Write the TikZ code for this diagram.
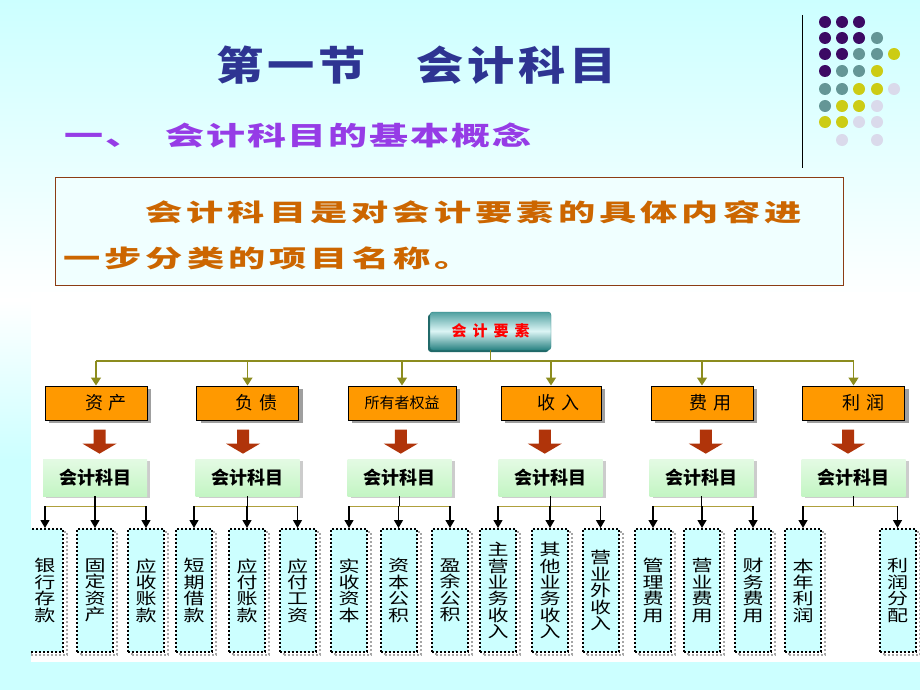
\documentclass[tikz,border=0pt]{standalone}
\usepackage{fontspec}
\usepackage{graphicx}
\setmainfont{Noto Sans CJK SC}
\usetikzlibrary{shadows,arrows.meta,calc}
\definecolor{bgcyan}{RGB}{204,255,255}
\definecolor{titleblue}{RGB}{46,52,146}
\definecolor{subpurple}{RGB}{150,60,230}
\definecolor{bodyorange}{RGB}{204,102,0}
\definecolor{boxbrown}{RGB}{140,60,20}
\definecolor{boxfill}{RGB}{240,255,255}
\definecolor{catorange}{RGB}{255,153,0}
\definecolor{olivel}{RGB}{140,140,30}
\definecolor{goldl}{RGB}{175,160,60}
\definecolor{greenbox}{RGB}{195,245,195}
\definecolor{arrowred}{RGB}{176,52,10}
\definecolor{dotP}{RGB}{60,10,100}
\definecolor{dotT}{RGB}{100,150,150}
\definecolor{dotY}{RGB}{204,204,20}
\definecolor{dotL}{RGB}{218,218,235}
\definecolor{tealA}{RGB}{80,160,160}
\definecolor{tealB}{RGB}{220,245,245}
\definecolor{tealC}{RGB}{40,130,130}
\newcommand\vstk[1]{\scalebox{1.05}[0.8]{\parbox{22pt}{\centering\fontsize{20}{20.5}\selectfont #1}}}
\begin{document}
\begin{tikzpicture}[x=1pt,y=-1pt,
  catbox/.style={draw=black, line width=1pt, fill=catorange, minimum height=34pt,
    minimum width=102pt, inner sep=0pt, font=\fontsize{18}{18}\selectfont\addfontfeature{LetterSpace=28},
    drop shadow={shadow xshift=4pt, shadow yshift=-3pt, fill=gray!75, opacity=1}},
  subjbox/.style={top color=greenbox!45!white, bottom color=greenbox, minimum width=104pt,
    minimum height=37pt, inner sep=0pt, font=\bfseries\fontsize{18}{18}\selectfont,
    drop shadow={shadow xshift=3pt, shadow yshift=-2pt, fill=gray!40, opacity=1}},
  itembox/.style={draw=black, line width=2pt, dash pattern=on 2pt off 2pt, fill=bgcyan,
    minimum width=36pt, minimum height=123pt, inner sep=0pt,
    drop shadow={shadow xshift=4pt, shadow yshift=-3pt, fill=white, draw=gray!70,
      line width=2pt, dash pattern=on 2pt off 2pt, opacity=1}},
  elemnode/.style={rounded corners=3pt, minimum width=121pt, minimum height=38pt,
    draw=tealC, top color=tealA, bottom color=tealC, middle color=tealB, text=red,
    font=\bfseries\fontsize{15}{15}\selectfont\addfontfeature{LetterSpace=40},
    drop shadow={shadow xshift=-2pt, shadow yshift=-2pt, fill=tealC!80!black, opacity=1}},
  oline/.style={draw=olivel, line width=1.5pt},
  oarrow/.style={draw=olivel, line width=1.5pt, -{Triangle[width=10pt,length=8pt]}},
  goldline/.style={draw=goldl, line width=1pt},
  stem/.style={draw=black, line width=1.3pt},
  karrow/.style={draw=black, line width=1.3pt, -{Triangle[width=9pt,length=8pt]}},
  bigtxt/.style={inner sep=0pt, anchor=west},
  blockarrow/.pic={\fill[arrowred] (-6,-10) -- (6,-10) -- (6,4) -- (17,4) -- (0,14) -- (-17,4) -- (-6,4) -- cycle;}
]
\useasboundingbox (0,0) rectangle (920,690);
% background
\fill[bgcyan] (0,0) rectangle (920,690);
\shade[top color=bgcyan, bottom color=white] (0,0) rectangle (920,300);
\shade[top color=white, bottom color=bgcyan] (0,300) rectangle (920,460);
\fill[white] (31,292) rectangle (920,662);
% decoration
\draw[line width=1pt] (802,15) -- (802,168);
\foreach \x/\y/\c in {
 825/22/dotP, 842/22/dotP, 859/22/dotP,
 825/38/dotP, 842/38/dotP, 859/38/dotP, 877/38/dotT,
 825/54/dotP, 842/54/dotP, 859/54/dotT, 877/54/dotT, 894/54/dotY,
 825/71/dotP, 842/71/dotT, 859/71/dotT, 877/71/dotY,
 825/89/dotT, 842/89/dotT, 859/89/dotY, 877/89/dotY, 894/89/dotL,
 825/106/dotT, 842/106/dotY, 859/106/dotY, 877/106/dotL,
 825/122/dotY, 842/122/dotY, 859/122/dotL, 877/122/dotL,
 842/140/dotL, 877/140/dotL}
  \fill[\c] (\x,\y) circle (6pt);
% titles
\node[bigtxt, text=titleblue, font=\bfseries\fontsize{40}{40}\selectfont\addfontfeature{LetterSpace=8}]
  (title) at (216,65) {\scalebox{1.18}[1]{第一节\hspace*{43pt}会计科目}};
\node[bigtxt, text=subpurple, font=\bfseries\fontsize{26}{26}\selectfont\addfontfeature{LetterSpace=5}]
  (sub) at (64,135) {\scalebox{1.5}[1]{一、\hspace*{14pt}会计科目的基本概念}};
% definition box
\node[draw=boxbrown, line width=1pt, fill=boxfill, minimum width=788pt, minimum height=108pt,
  anchor=north west, inner sep=0pt] (defbox) at (55,177) {};
\node[bigtxt, text=bodyorange, font=\bfseries\fontsize{24}{24}\selectfont\addfontfeature{LetterSpace=11}]
  (def1) at (145,212.5) {\scalebox{1.55}[1]{会计科目是对会计要素的具体内容进}};
\node[bigtxt, text=bodyorange, font=\bfseries\fontsize{24}{24}\selectfont\addfontfeature{LetterSpace=11}]
  (def2) at (63,258) {\scalebox{1.55}[1]{一步分类的项目名称。}};
% top element
\node[elemnode] (elem) at (490.5,331) {会计要素};
\coordinate (bus) at (0,361);
% categories
\node[catbox] (o1) at (96,403) {\hspace*{20pt}资产};
\node[catbox] (o2) at (247.5,403) {\hspace*{18pt}负债};
\node[catbox, minimum width=108pt, font=\fontsize{15}{15}\selectfont] (o3) at (402,403) {所有者权益};
\node[catbox, minimum width=100pt] (o4) at (551,403) {\hspace*{15pt}收入};
\node[catbox] (o5) at (702,403) {\hspace*{17pt}费用};
\node[catbox] (o6) at (853.5,403) {\hspace*{20pt}利润};
\draw[oline] (elem.south) -- (elem.south |- bus);
\draw[oline] (o1.north |- bus) -- (o6.north |- bus);
\foreach \i in {1,...,6} \draw[oarrow] (o\i.north |- bus) -- (o\i.north);
% subject boxes
\node[subjbox] (g1) at (95,477.5) {会计科目};
\node[subjbox] (g2) at (247.5,477.5) {会计科目};
\node[subjbox] (g3) at (399.5,477.5) {会计科目};
\node[subjbox] (g4) at (550.5,477.5) {会计科目};
\node[subjbox] (g5) at (701.5,477.5) {会计科目};
\node[subjbox] (g6) at (853.5,477.5) {会计科目};
\foreach \i/\dx in {1/4,2/-4.5,3/0,4/-6,5/4,6/-5.5}
  \path ($(o\i.south)!0.5!(g\i.north)$) ++(\dx,0) pic {blockarrow};
% items
\begin{scope}
\clip (31,292) rectangle (925,662);
\node[itembox] (k11) at (45,590.5) {\vstk{银\\行\\存\\款}};
\node[itembox] (k12) at (95,590.5) {\vstk{固\\定\\资\\产}};
\node[itembox] (k13) at (146,590.5) {\vstk{应\\收\\账\\款}};
\node[itembox] (k21) at (194,590.5) {\vstk{短\\期\\借\\款}};
\node[itembox] (k22) at (247,590.5) {\vstk{应\\付\\账\\款}};
\node[itembox] (k23) at (297.5,590.5) {\vstk{应\\付\\工\\资}};
\node[itembox] (k31) at (349,590.5) {\vstk{实\\收\\资\\本}};
\node[itembox] (k32) at (398.5,590.5) {\vstk{资\\本\\公\\积}};
\node[itembox] (k33) at (450,590.5) {\vstk{盈\\余\\公\\积}};
\node[itembox] (k41) at (498,590.5) {\vstk{主\\营\\业\\务\\收\\入}};
\node[itembox] (k42) at (550,590.5) {\vstk{其\\他\\业\\务\\收\\入}};
\node[itembox] (k43) at (600.5,590.5) {\vstk{营\\业\\外\\收\\入}};
\node[itembox] (k51) at (653,590.5) {\vstk{管\\理\\费\\用}};
\node[itembox] (k52) at (702,590.5) {\vstk{营\\业\\费\\用}};
\node[itembox] (k53) at (753,590.5) {\vstk{财\\务\\费\\用}};
\node[itembox] (k61) at (803,590.5) {\vstk{本\\年\\利\\润}};
\node[itembox] (k62) at (897.5,590.5) {\vstk{利\\润\\分\\配}};
\end{scope}
\coordinate (hb) at (0,506);
\foreach \i in {1,...,5} {
  \draw[goldline] (k\i1.north |- hb) -- (k\i3.north |- hb);
  \draw[stem] (g\i.south) -- (g\i.south |- hb);
  \foreach \j in {1,2,3} \draw[karrow] (k\i\j.north |- hb) -- (k\i\j.north);
}
\draw[goldline] (k61.north |- hb) -- (k62.north |- hb);
\draw[stem] (g6.south) -- (g6.south |- hb);
\draw[karrow] (k61.north |- hb) -- (k61.north);
\draw[karrow] (k62.north |- hb) -- (k62.north);
\end{tikzpicture}
\end{document}
